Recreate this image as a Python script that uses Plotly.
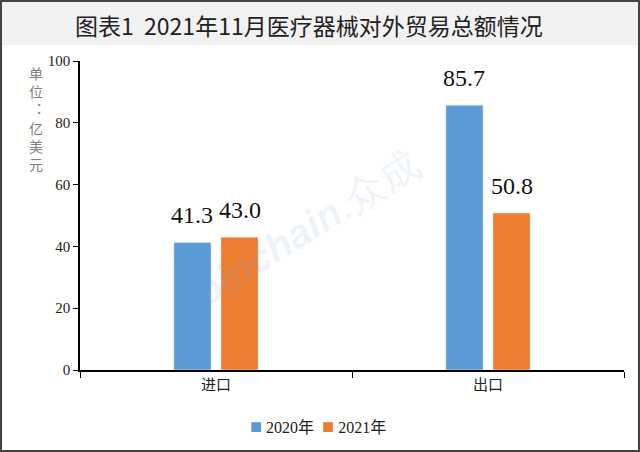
import plotly.graph_objects as go

categories = ["进口", "出口"]
series_names = ["2020年", "2021年"]
values_2020 = [41.3, 85.7]
values_2021 = [43.0, 50.8]
y_ticks = [0, 20, 40, 60, 80, 100]

colors = ["#5B9BD5", "#ED7D31"]
serif = "'Liberation Serif', 'Noto Sans CJK SC', serif"
cjk = "'Noto Sans CJK SC', sans-serif"

W, H = 640, 452
L, R, T, B = 80, 16, 61, 82
pw, ph = W - L - R, H - T - B
bargap, bargroupgap = 0.654, 0.21


def px_x(px):
    return (px - L) / pw


def px_y(py):
    return (H - B - py) / ph


fig = go.Figure()
all_vals = [values_2020, values_2021]
for name, vals, col in zip(series_names, all_vals, colors):
    fig.add_trace(go.Bar(x=categories, y=vals, name=name, marker_color=col))

# 数值标签：放在各柱上方（按分组偏移）
slot = (1 - bargap) * pw / len(categories) / len(all_vals)
for i, vals in enumerate(all_vals):
    shift = (i - (len(all_vals) - 1) / 2) * slot
    for cat, v in zip(categories, vals):
        fig.add_annotation(x=cat, y=v, text=f"{v:.1f}", xshift=shift, yshift=12,
                           yanchor="bottom", showarrow=False,
                           font=dict(family=serif, size=24, color="#111"))

# 标题底色与外框
fig.add_shape(type="rect", xref="paper", yref="paper",
              x0=px_x(0), x1=px_x(W), y0=px_y(45), y1=px_y(0),
              fillcolor="#f2f2f2", line_width=0, layer="below")
fig.add_shape(type="rect", xref="paper", yref="paper",
              x0=px_x(1), x1=px_x(W - 1), y0=px_y(H - 1), y1=px_y(1),
              line=dict(color="#444", width=2))

fig.add_annotation(text="图表1  2021年11月医疗器械对外贸易总额情况",
                   xref="paper", yref="paper", x=px_x(309), y=px_y(25),
                   yanchor="middle", showarrow=False,
                   font=dict(family=cjk, size=23, color="#222"))
fig.add_annotation(text="单<br>位<br>︓<br>亿<br>美<br>元",
                   xref="paper", yref="paper", x=px_x(27), y=px_y(61),
                   yanchor="top", showarrow=False,
                   font=dict(family=cjk, size=14, color="#808080"))
# 水印
fig.add_annotation(text="<b><i>joinchain</i></b>.众成",
                   xref="paper", yref="paper", x=px_x(300), y=px_y(232),
                   showarrow=False, textangle=-32,
                   font=dict(family="Arial", size=40, color="rgba(120,160,210,0.13)"))

# 图例（紧凑的色块 + 文字）
legend_text = "&nbsp;&nbsp;".join(
    f"<span style='color:{c};font-size:20px'>■</span>&nbsp;{n}"
    for n, c in zip(series_names, colors)
)
fig.add_annotation(text=legend_text, xref="paper", yref="paper",
                   x=px_x(318), y=px_y(426), yanchor="middle", showarrow=False,
                   font=dict(family=serif, size=16, color="#222"))

fig.update_layout(
    width=W, height=H,
    margin=dict(l=L, r=R, t=T, b=B),
    plot_bgcolor="white", paper_bgcolor="white",
    barmode="group", bargap=bargap, bargroupgap=bargroupgap,
    showlegend=False,
    xaxis=dict(showline=True, linecolor="black", linewidth=1.5,
               ticks="outside", ticklen=6, tickcolor="black",
               tickson="boundaries",
               tickfont=dict(family=cjk, size=15, color="#222")),
    yaxis=dict(range=[0, 100], tickvals=y_ticks, showgrid=False,
               showline=True, linecolor="black", linewidth=1.5,
               ticks="outside", ticklen=5, tickcolor="black",
               zeroline=False,
               tickfont=dict(family=serif, size=15, color="#222")),
)

fig.write_html("out.html", config={"displayModeBar": False},
               post_script="document.body.style.margin='0';")
